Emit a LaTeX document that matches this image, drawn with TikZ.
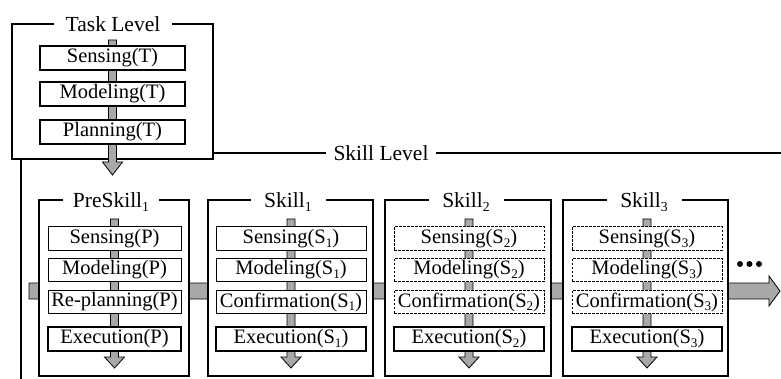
\documentclass[tikz,border=0pt]{standalone}
\usepackage{fontspec}
\setmainfont{Liberation Serif}
\definecolor{arrowgray}{RGB}{168,168,168}
\newcommand{\fatdown}[4]{% x, ytop, yheadbase, ytip
  \draw[fatarrow] ({#1-4},#2) -- ({#1+4},#2) -- ({#1+4},#3) -- ({#1+10},#3) -- (#1,#4) -- ({#1-10},#3) -- ({#1-4},#3) -- cycle;}
\newcommand{\lowsub}[1]{\raisebox{-0.18em}{\fontsize{0.64em}{0.64em}\selectfont #1}}
\begin{document}
\begin{tikzpicture}[x=1pt,y=-1pt,
  frameline/.style={line width=1.5pt,draw=black},
  framebox/.style={frameline,fill=white,rectangle,inner sep=0pt},
  title/.style={fill=white,inner sep=0pt,minimum height=20pt,font=\fontsize{21.5}{23}\selectfont,text depth=0pt},
  thinbox/.style={draw=black,line width=0.8pt,fill=white,rectangle,inner sep=0pt,minimum height=23.5pt,font=\fontsize{20.5}{22}\selectfont},
  dashbox/.style={thinbox,dash pattern=on 2.5pt off 1.5pt},
  thickbox/.style={thinbox,line width=1.8pt},
  fatarrow/.style={draw=black,line width=0.8pt,fill=arrowgray,line join=miter}]
\useasboundingbox (0,0) rectangle (781,379);

% Skill level frame
\coordinate (slbl) at (21,382);
\coordinate (sltr) at (784,153);
\draw[frameline] (slbl) |- (sltr);
\node[title,minimum width=110pt] (sltitle) at (381,153) {Skill Level};

% Task level frame
\node[framebox,minimum width=201pt,minimum height=135pt] (task) at (112.5,91.5) {};
\node[title,minimum width=118pt] (tasktitle) at (113,24) {Task Level};

% horizontal arrow
\draw[fatarrow] (29,283) -- (769,283) -- (769,276) -- (780,291) -- (769,306) -- (769,299) -- (29,299) -- cycle;

% dots
\fill (740,264) circle (3pt) (749.5,264) circle (3pt) (759,264) circle (3pt);

% skill frames
\node[framebox,minimum width=150pt,minimum height=176pt] (f0) at (114,288) {};
\node[framebox,minimum width=165pt,minimum height=176pt] (f1) at (290.5,288) {};
\node[framebox,minimum width=166pt,minimum height=176pt] (f2) at (468,288) {};
\node[framebox,minimum width=165pt,minimum height=176pt] (f3) at (645.5,288) {};
\node[title,minimum width=96pt] (t0) at (111,200) {PreSkill\lowsub{1}};
\node[title,minimum width=75pt] (t1) at (288,200) {Skill\lowsub{1}};
\node[title,minimum width=75pt] (t2) at (466,200) {Skill\lowsub{2}};
\node[title,minimum width=75pt] (t3) at (644,200) {Skill\lowsub{3}};

% vertical arrows in skills
\fatdown{114.5}{219}{357}{368}
\fatdown{291}{219}{357}{368}
\fatdown{469}{219}{357}{368}
\fatdown{647}{219}{357}{368}

% Task arrow
\fatdown{112.5}{40}{162}{175}

% Task boxes
\node[thickbox,minimum width=145pt] (ts) at (112.5,58) {Sensing(T)};
\node[thickbox,minimum width=145pt] (tm) at (112.5,94) {Modeling(T)};
\node[thickbox,minimum width=145pt] (tp) at (112.5,132) {Planning(T)};

% PreSkill boxes
\node[thinbox,minimum width=133pt] (ps) at (114.5,238.5) {Sensing(P)};
\node[thinbox,minimum width=133pt] (pm) at (114.5,270) {Modeling(P)};
\node[thinbox,minimum width=133pt] (pr) at (114.5,302) {Re-planning(P)};
\node[thickbox,minimum width=133pt] (pe) at (114.5,339) {Execution(P)};

% Skill1 boxes
\node[thinbox,minimum width=150pt] (s1s) at (291,238.5) {Sensing(S\lowsub{1})};
\node[thinbox,minimum width=150pt] (s1m) at (291,270) {Modeling(S\lowsub{1})};
\node[thinbox,minimum width=150pt] (s1c) at (291,302) {Confirmation(S\lowsub{1})};
\node[thickbox,minimum width=150pt] (s1e) at (291,339) {Execution(S\lowsub{1})};

% Skill2 boxes
\node[dashbox,minimum width=150pt] (s2s) at (469,238.5) {Sensing(S\lowsub{2})};
\node[dashbox,minimum width=150pt] (s2m) at (469,270) {Modeling(S\lowsub{2})};
\node[dashbox,minimum width=150pt] (s2c) at (469,302) {Confirmation(S\lowsub{2})};
\node[thickbox,minimum width=150pt] (s2e) at (469,339) {Execution(S\lowsub{2})};

% Skill3 boxes
\node[dashbox,minimum width=150pt] (s3s) at (647,238.5) {Sensing(S\lowsub{3})};
\node[dashbox,minimum width=150pt] (s3m) at (647,270) {Modeling(S\lowsub{3})};
\node[dashbox,minimum width=150pt] (s3c) at (647,302) {Confirmation(S\lowsub{3})};
\node[thickbox,minimum width=150pt] (s3e) at (647,339) {Execution(S\lowsub{3})};
\end{tikzpicture}
\end{document}
